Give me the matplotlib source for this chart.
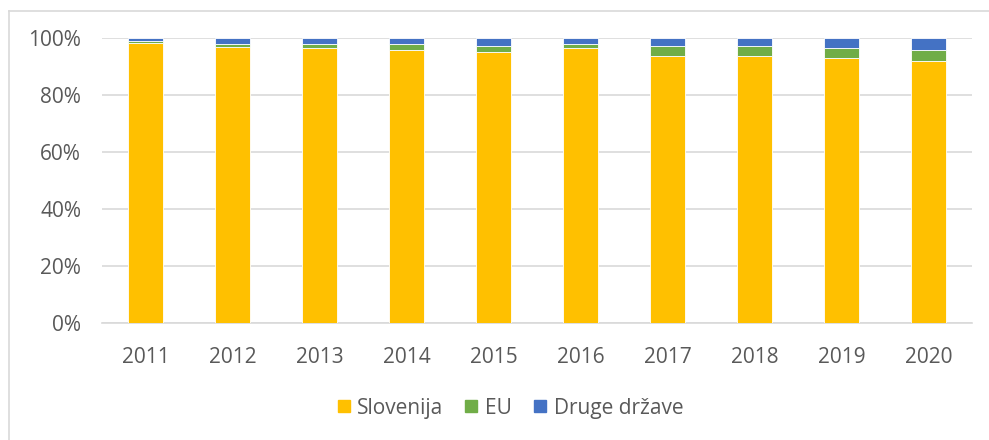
import matplotlib.pyplot as plt
from matplotlib.lines import Line2D
import numpy as np

plt.rcParams['font.family'] = ['Open Sans', 'DejaVu Sans']

# podatki (deleži v %)
years = ['2011', '2012', '2013', '2014', '2015', '2016', '2017', '2018', '2019', '2020']
slovenija = [98.3, 97.0, 96.6, 95.9, 95.1, 96.6, 93.9, 94.0, 93.3, 92.0]
eu = [0.8, 1.0, 1.4, 2.0, 2.2, 1.6, 3.4, 3.4, 3.2, 3.9]
druge = [0.9, 2.0, 2.0, 2.1, 2.7, 1.8, 2.7, 2.6, 3.5, 4.1]

series = [('Slovenija', slovenija, '#FFC000'),
          ('EU', eu, '#70AD47'),
          ('Druge države', druge, '#4472C4')]

text_col = '#595959'
grid_col = '#D9D9D9'

fig = plt.figure(figsize=(9.89, 4.4), dpi=100)
ax = fig.add_axes([102 / 989, 1 - 323.3 / 440, 870 / 989, 284.8 / 440])

x = np.arange(len(years))
bottom = np.zeros(len(years))
for name, vals, col in series:
    vals = np.array(vals)
    ax.bar(x, vals / 100, width=0.4, bottom=bottom, color=col,
           edgecolor='white', linewidth=0.6, zorder=3, label=name)
    bottom += vals / 100

ax.set_xlim(-0.5, len(years) - 0.5)
ax.set_ylim(0, 1)
ax.set_yticks(np.arange(0, 1.01, 0.2))
ax.set_yticklabels([f'{int(round(v * 100))}%' for v in np.arange(0, 1.01, 0.2)])
ax.set_xticks(x)
ax.set_xticklabels(years)
ax.tick_params(axis='both', length=0, labelsize=15, colors=text_col)
ax.tick_params(axis='y', pad=15)
ax.tick_params(axis='x', pad=17)
ax.yaxis.grid(True, color=grid_col, linewidth=1.2, zorder=0)
for s in ['top', 'right', 'left']:
    ax.spines[s].set_visible(False)
ax.spines['bottom'].set_color(grid_col)
ax.spines['bottom'].set_linewidth(1.2)

# okvir grafikona
fig.add_artist(Line2D([9 / 989, 9 / 989], [0, 1 - 11 / 440], color=grid_col, linewidth=1.2))
fig.add_artist(Line2D([9 / 989, 1], [1 - 11 / 440, 1 - 11 / 440], color=grid_col, linewidth=1.2))

handles = [Line2D([], [], marker='s', linestyle='none', markersize=9,
                  markerfacecolor=col, markeredgecolor=col, label=name)
           for name, vals, col in series]
leg = fig.legend(handles=handles, loc='center', ncol=3, frameon=False,
                 bbox_to_anchor=(509.7 / 989, 1 - 408 / 440), fontsize=15,
                 handlelength=0.7, handletextpad=0.3, columnspacing=1.0)
for t in leg.get_texts():
    t.set_color(text_col)

fig.savefig('out.png', dpi=100)
